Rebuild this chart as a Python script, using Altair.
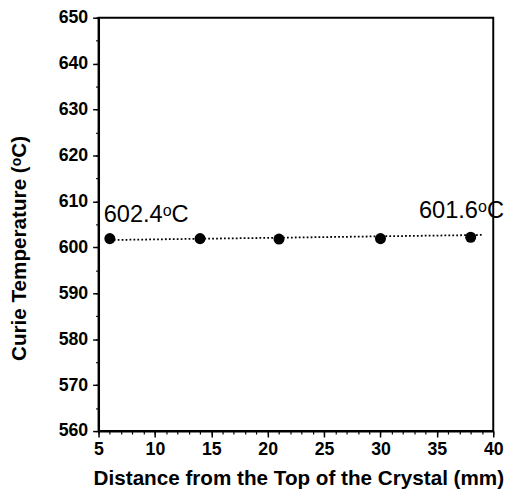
import altair as alt
import pandas as pd

# data
pos_mm = [6, 14, 21, 30, 38]
curie_c = [601.9, 601.9, 601.8, 601.9, 602.2]

fit_x = [6.0, 39.0]
fit_y = [601.6, 602.7]

label_text = ["602.4ᵒC", "601.6ᵒC"]
label_x = [5.45, 40.95]
label_y = [605.5, 606.35]
label_align = ["left", "right"]

x_major = list(range(5, 41, 5))
x_minor = list(range(5, 41))
y_major = list(range(560, 651, 10))
y_minor = list(range(560, 651, 5))

pts = pd.DataFrame({"x": pos_mm, "y": curie_c})
fit = pd.DataFrame({"x": fit_x, "y": fit_y})
labs = pd.DataFrame({"x": label_x, "y": label_y, "t": label_text, "a": label_align})

FONT = "Liberation Sans"

xscale = alt.Scale(domain=[5, 40], nice=False, zero=False)
yscale = alt.Scale(domain=[560, 650], nice=False, zero=False)

xaxis = alt.Axis(
    orient="bottom",
    values=x_major,
    tickSize=6,
    tickWidth=1.5,
    tickColor="black",
    domainColor="black",
    domainWidth=2,
    grid=False,
    labelFlush=False,
    labelOverlap=False,
    labelFont=FONT,
    labelFontWeight="bold",
    labelFontSize=18,
    labelColor="black",
    labelPadding=4,
    title="Distance from the Top of the Crystal (mm)",
    titleFont=FONT,
    titleFontWeight="bold",
    titleFontSize=21,
    titleColor="black",
    titleBaseline="alphabetic",
    titleX=203,
    titleY=54,
)

yaxis = alt.Axis(
    orient="left",
    values=y_major,
    tickSize=6,
    tickWidth=1.5,
    tickColor="black",
    domainColor="black",
    domainWidth=2,
    grid=False,
    labelFlush=False,
    labelOverlap=False,
    labelFont=FONT,
    labelFontWeight="bold",
    labelFontSize=18,
    labelColor="black",
    labelPadding=5,
    title="Curie Temperature (ᵒC)",
    titleFont=FONT,
    titleFontWeight="bold",
    titleFontSize=21,
    titleColor="black",
    titleBaseline="middle",
    titleX=-80,
    titleY=234,
)

xaxis_minor = alt.Axis(
    orient="bottom",
    values=x_minor,
    tickSize=3,
    tickWidth=1.2,
    tickColor="black",
    domain=False,
    grid=False,
    labels=False,
    title="",
)

yaxis_minor = alt.Axis(
    orient="left",
    values=y_minor,
    tickSize=3,
    tickWidth=1.2,
    tickColor="black",
    domain=False,
    grid=False,
    labels=False,
    title="",
)

line = alt.Chart(fit).mark_line(
    color="black", strokeWidth=1.8, strokeDash=[1.8, 2.2]
).encode(
    x=alt.X("x:Q", scale=xscale, axis=xaxis),
    y=alt.Y("y:Q", scale=yscale, axis=yaxis),
)

points = alt.Chart(pts).mark_point(
    filled=True, shape="circle", size=125, color="black", opacity=1
).encode(
    x=alt.X("x:Q", scale=xscale, axis=xaxis_minor),
    y=alt.Y("y:Q", scale=yscale, axis=yaxis_minor),
)

text_left = alt.Chart(labs[labs["a"] == "left"]).mark_text(
    align="left", baseline="alphabetic", font=FONT, fontSize=24, color="black"
).encode(
    x=alt.X("x:Q", scale=xscale, axis=None),
    y=alt.Y("y:Q", scale=yscale, axis=None),
    text="t:N",
)

text_right = alt.Chart(labs[labs["a"] == "right"]).mark_text(
    align="right", baseline="alphabetic", font=FONT, fontSize=24, color="black"
).encode(
    x=alt.X("x:Q", scale=xscale, axis=None),
    y=alt.Y("y:Q", scale=yscale, axis=None),
    text="t:N",
)

chart = alt.layer(line, points, text_left, text_right).resolve_axis(
    x="independent", y="independent"
).properties(
    width=401,
    height=420,
    autosize=alt.AutoSizeParams(type="none"),
    padding={"left": 92, "top": 6, "right": 16, "bottom": 55},
    background="white",
).configure_view(
    stroke="black", strokeWidth=2
)

chart.save("out.html", embed_options={"renderer": "svg", "actions": False})
